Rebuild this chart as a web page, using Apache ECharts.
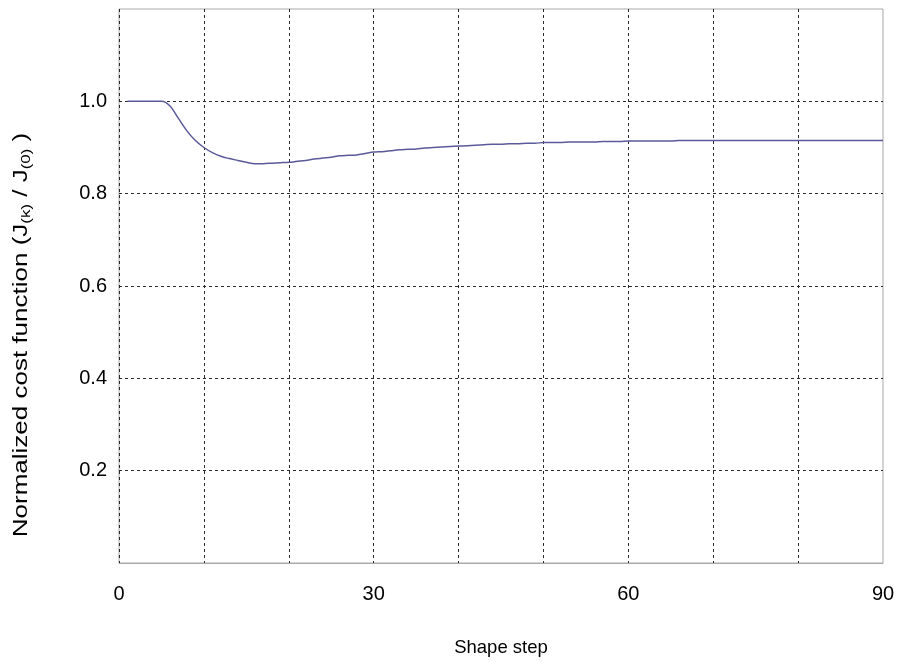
<!DOCTYPE html>
<html>
<head>
<meta charset="utf-8">
<script src="https://cdn.jsdelivr.net/npm/echarts@6/dist/echarts.min.js"></script>
<style>html,body{margin:0;padding:0;background:#fff}#c{width:899px;height:662px}</style>
</head>
<body>
<div id="c"></div>
<script>
var steps = [1,2,3,4,5,6,7,8,9,10,11,12,13,14,15,16,17,18,19,20,21,22,23,24,25,26,27,28,29,30,
  31,32,33,34,35,36,37,38,39,40,41,42,43,44,45,46,47,48,49,50,51,52,53,54,55,56,57,58,59,60,
  61,62,63,64,65,66,67,68,69,70,71,72,73,74,75,76,77,78,79,80,81,82,83,84,85,86,87,88,89,90];
var cost = [1.000,1.000,1.000,1.000,1.000,0.990,0.963,0.936,0.915,0.900,0.889,0.881,0.876,0.872,0.868,0.865,0.865,0.866,0.867,0.868,
  0.870,0.872,0.875,0.877,0.879,0.882,0.883,0.884,0.887,0.890,0.891,0.893,0.895,0.896,0.897,0.899,0.900,0.901,0.902,0.903,
  0.904,0.905,0.906,0.907,0.907,0.908,0.908,0.909,0.909,0.911,0.911,0.911,0.912,0.912,0.912,0.912,0.913,0.913,0.913,0.914,
  0.914,0.914,0.914,0.914,0.914,0.915,0.915,0.915,0.915,0.915,0.915,0.915,0.915,0.915,0.915,0.915,0.915,0.915,0.915,0.915,
  0.915,0.915,0.915,0.915,0.915,0.915,0.915,0.915,0.915,0.915];
var xTickLabels = [0, 30, 60, 90];
var yTickLabels = [0.2, 0.4, 0.6, 0.8, 1.0];
var xTitle = 'Shape step';
var yTitle = '{n|Normalized cost function (J}{s|(k)}{n| / J}{s|(0)}{n| )}';

var font = 'Liberation Sans, Arial, sans-serif';
var chart = echarts.init(document.getElementById('c'));
chart.setOption({
  animation: false,
  grid: {left: 119, right: 16, top: 9, bottom: 98, show: true, borderColor: '#a8a8a8', borderWidth: 1, backgroundColor: '#fff'},
  graphic: [{
    type: 'text', x: 21, y: 335, rotation: Math.PI / 2, scaleX: 1.3, silent: true,
    style: {
      text: yTitle, align: 'center', verticalAlign: 'middle',
      fontFamily: font, fontSize: 20, fill: '#000',
      rich: {
        n: {fontFamily: font, fontSize: 20, fill: '#000', lineHeight: 24, verticalAlign: 'middle'},
        s: {fontFamily: font, fontSize: 13, fill: '#000', lineHeight: 12, verticalAlign: 'bottom'}
      }
    }
  }],
  xAxis: {
    type: 'value', min: 0, max: 90, interval: 10,
    name: xTitle, nameLocation: 'middle', nameGap: 75,
    nameTextStyle: {fontFamily: font, fontSize: 18.5, color: '#000'},
    axisLine: {show: true, lineStyle: {color: '#a8a8a8', width: 1}},
    axisTick: {show: false},
    axisLabel: {margin: 21, fontFamily: font, fontSize: 20, color: '#000',
      formatter: function (v) { return xTickLabels.indexOf(v) >= 0 ? String(v) : ''; }},
    splitLine: {show: true, showMaxLine: false, lineStyle: {color: '#2a2a2a', width: 1, type: [3, 3]}}
  },
  yAxis: {
    type: 'value', min: 0, max: 1.2, interval: 0.2,
    axisLine: {show: false},
    axisTick: {show: false},
    axisLabel: {margin: 12, fontFamily: font, fontSize: 20, color: '#000',
      formatter: function (v) {
        for (var i = 0; i < yTickLabels.length; i++) { if (Math.abs(yTickLabels[i] - v) < 1e-6) return v.toFixed(1); }
        return '';
      }},
    splitLine: {show: true, showMinLine: false, showMaxLine: false, lineStyle: {color: '#2a2a2a', width: 1, type: [3, 3]}}
  },
  series: [{
    type: 'line',
    data: steps.map(function (s, i) { return [s, cost[i]]; }),
    showSymbol: false, smooth: 0.3,
    lineStyle: {color: '#5a5a98', width: 1.5}
  }]
});
</script>
</body>
</html>
